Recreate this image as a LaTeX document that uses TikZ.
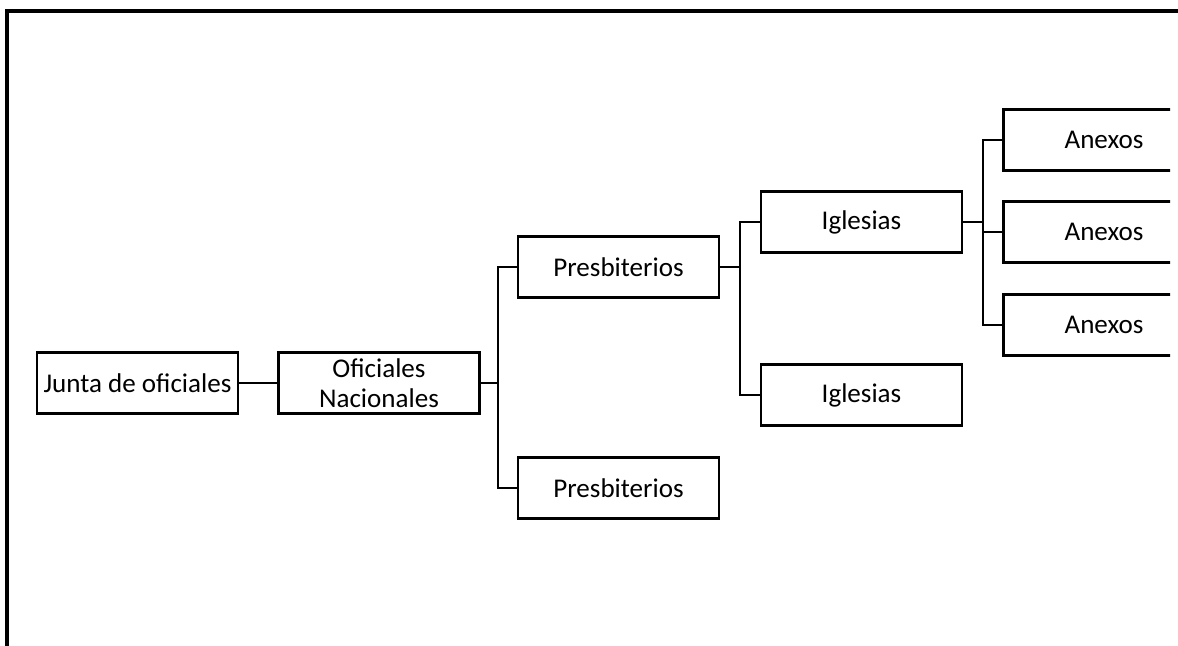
\documentclass[tikz,border=0pt]{standalone}
\usepackage{fontspec}
\setmainfont{Carlito}
\tikzset{>=latex}
\tikzset{
  unidad/.style={draw, line width=1.4pt, minimum width=4.02cm, minimum height=1.22cm,
    inner sep=2pt, align=center, font=\fontsize{15.4}{16.8}\selectfont},
  rama/.style={line width=1.4pt}
}

\begin{document}
\begin{tikzpicture}[x=0.02cm,y=-0.02cm]
    \useasboundingbox (0,0) rectangle (1178,646);
    \draw[line width=2pt] (7,646) -- (7,11) -- (1178,11);

    \node[unidad] (junta) at (137.5,383) {Junta de oficiales};
    \node[unidad] (nacion) at (379,383) {Oficiales\\ Nacionales};

    \node[unidad] (presb1) at (618.5,267) {Presbiterios};
    \node[unidad] (presb2) at (618.5,488) {Presbiterios};

    \node[unidad] (igl1) at (861.5,222) {Iglesias};
    \node[unidad] (igl2) at (861.5,395) {Iglesias};

    \begin{scope}
      \clip (0,0) rectangle (1170,646);
      \node[unidad] (anex1) at (1104,140) {Anexos};
      \node[unidad] (anex2) at (1104,232) {Anexos};
      \node[unidad] (anex3) at (1104,325) {Anexos};
    \end{scope}

    \coordinate (b1) at (498,383);
    \coordinate (b2) at (740,267);
    \coordinate (b3) at (983,222);

    \draw[rama] (junta) -- (nacion);

    \draw[rama] (nacion.east) -- (b1);
    \draw[rama] (presb1.west) -| (b1) |- (presb2.west);

    \draw[rama] (presb1.east) -- (b2);
    \draw[rama] (igl1.west) -| (b2) |- (igl2.west);

    \draw[rama] (igl1.east) -- (b3);
    \draw[rama] (anex1.west) -| (b3) |- (anex3.west);
    \draw[rama] (b3) |- (anex2.west);
\end{tikzpicture}
\end{document}
